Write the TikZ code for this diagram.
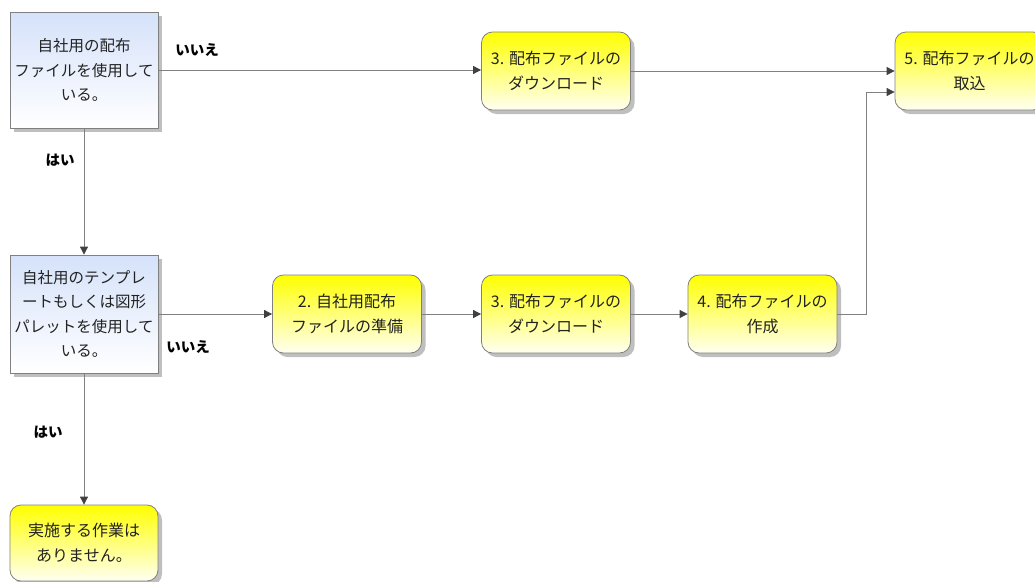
\documentclass[tikz,border=0pt]{standalone}
\usepackage{fontspec}
\setmainfont{Noto Sans CJK JP}
\usetikzlibrary{arrows.meta,shadows}
\definecolor{edge}{HTML}{808080}
\definecolor{txt}{HTML}{222222}
\definecolor{lblue}{HTML}{D5E2FA}
\tikzset{
  box/.style={draw=edge, line width=0.8pt, align=center, text=txt, font=\fontsize{16}{24.5}\selectfont,
    drop shadow={shadow xshift=4pt, shadow yshift=-4pt, fill=black!25, opacity=1},
    inner sep=2pt},
  decision/.style={box, font=\fontsize{15.5}{24.5}\selectfont, inner xsep=0pt, top color=lblue, bottom color=white, minimum width=148pt},
  task/.style={box, rounded corners=11pt, top color=yellow, bottom color=yellow!5!white, minimum width=149pt, minimum height=78pt},
  conn/.style={draw=edge, line width=0.8pt, -{Triangle[length=8pt,width=8pt,fill=black!75,color=black!75]}},
  plain/.style={draw=edge, line width=0.8pt},
  lbl/.style={font=\fontsize{14.5}{16}\bfseries\selectfont, text=black}
}
\begin{document}
\begin{tikzpicture}[x=1pt,y=-1pt]
\useasboundingbox (0,0) rectangle (1035,581);
\node[decision, minimum height=116pt] (A) at (84,70) {自社用の配布\\ファイルを使用して\\いる。};
\node[decision, minimum height=118pt] (B) at (84,314) {自社用のテンプレ\\ートもしくは図形\\パレットを使用して\\いる。};
\node[task] (n3a) at (556,71) {3. 配布ファイルの\\ダウンロード};
\node[task] (n5) at (969.5,71) {5. 配布ファイルの\\取込};
\node[task] (n2) at (347,314) {2. 自社用配布\\ファイルの準備};
\node[task] (n3b) at (556,314) {3. 配布ファイルの\\ダウンロード};
\node[task] (n4) at (762.5,314) {4. 配布ファイルの\\作成};
\node[task, minimum height=76pt, minimum width=148pt] (end) at (84,543) {実施する作業は\\ありません。};
\coordinate (bend) at (866,314);
\coordinate (top) at (866,92);
\draw[conn] (A.east) -- (n3a.west |- A.east);
\draw[conn] (n3a.east) -- (n5.west);
\draw[conn] (A.south) -- (B.north);
\draw[conn] (B.east) -- (n2.west);
\draw[conn] (n2.east) -- (n3b.west);
\draw[conn] (n3b.east) -- (n4.west);
\draw[plain] (n4.east) -- (bend) -- (top);
\draw[conn] (top) -- (n5.west |- top);
\draw[conn] (B.south) -- (end.north);
\node[lbl] (l1) at (197,50) {いいえ};
\node[lbl] (l2) at (60,160) {はい};
\node[lbl] (l3) at (188,347) {いいえ};
\node[lbl] (l4) at (48,432) {はい};
\end{tikzpicture}
\end{document}
